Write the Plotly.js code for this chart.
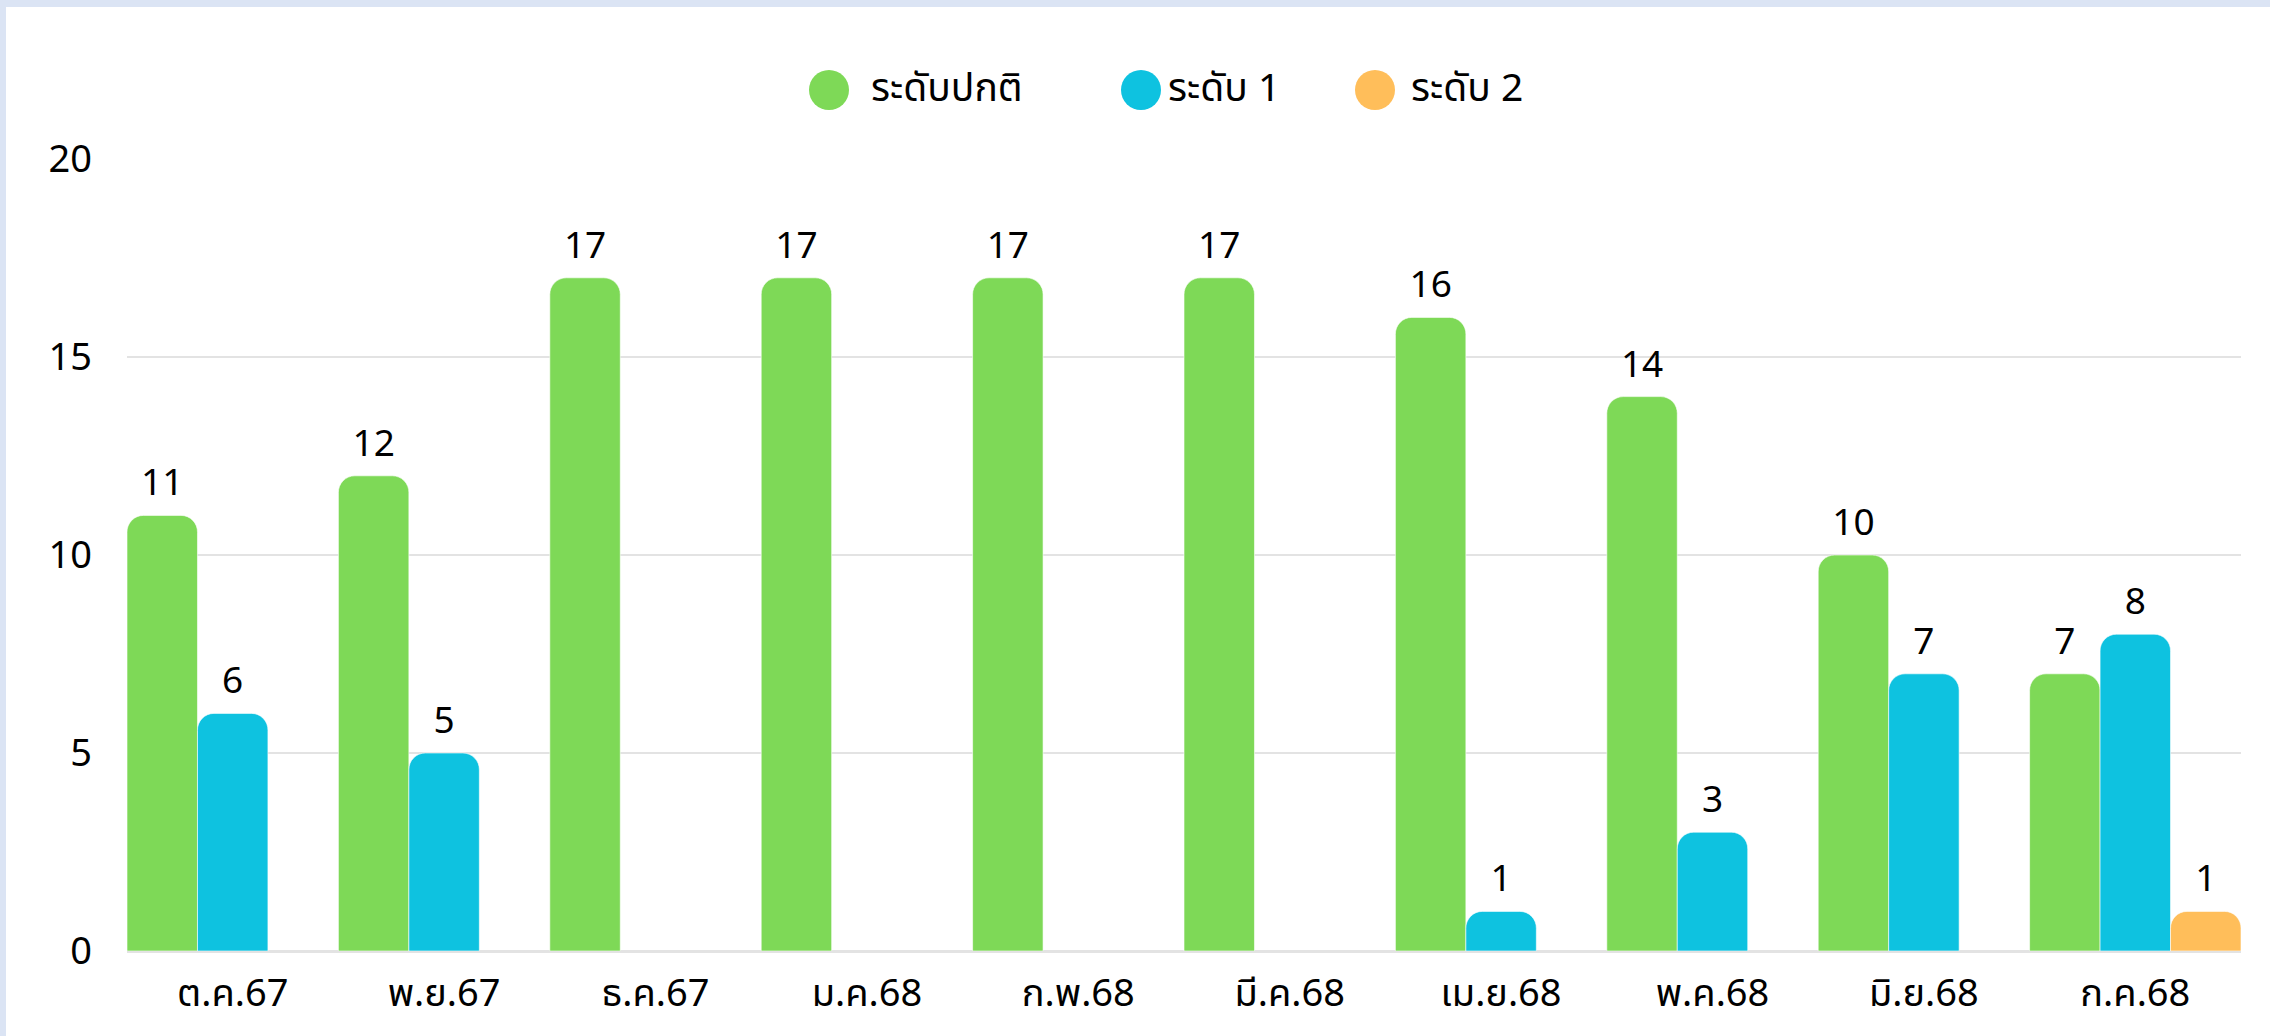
<!DOCTYPE html>
<html>
<head>
<meta charset="utf-8">
<script src="https://cdn.plot.ly/plotly-3.0.1.min.js"></script>
<style>
  html, body { margin: 0; padding: 0; background: #dbe4f4; }
  #wrap { position: absolute; left: 6px; top: 7px; width: 2264px; height: 1029px; background: #ffffff; }
  #chart { position: absolute; left: -6px; top: -7px; width: 2270px; height: 1036px; }
</style>
</head>
<body>
<div id="wrap"><div id="chart"></div></div>
<script>
const months = ["ต.ค.67", "พ.ย.67", "ธ.ค.67", "ม.ค.68", "ก.พ.68", "มี.ค.68", "เม.ย.68", "พ.ค.68", "มิ.ย.68", "ก.ค.68"];
const seriesNames = ["ระดับปกติ", "ระดับ 1", "ระดับ 2"];
const levelNormal = [11, 12, 17, 17, 17, 17, 16, 14, 10, 7];
const level1 = [6, 5, null, null, null, null, 1, 3, 7, 8];
const level2 = [null, null, null, null, null, null, null, null, null, 1];
const colors = ["#7ed957", "#0ec2e0", "#ffbe5a"];
const yTicks = [0, 5, 10, 15, 20];

const FONT = "Noto Sans Thai, Noto Sans, DejaVu Sans, sans-serif";
const seriesValues = [levelNormal, level1, level2];

const traces = seriesValues.map((vals, i) => ({
  type: "bar",
  name: seriesNames[i],
  x: months,
  y: vals,
  text: vals.map(v => v == null ? "" : String(v)),
  textposition: "outside",
  textfont: { family: FONT, size: 37, color: "#000000" },
  constraintext: "none",
  cliponaxis: false,
  marker: { color: colors[i], cornerradius: 17, line: { color: "rgba(255,255,255,0.6)", width: 1 } },
  showlegend: false,
  hoverinfo: "x+y"
}));

// Custom legend (circles + text) in paper coordinates
const L = 127, R = 2241, T = 159, B = 951;
const pw = R - L, ph = B - T;
const legendCenters = [829, 1141, 1375];
const legendTextX = [869, 1166, 1409];
const legendY = (B - 90) / ph;
const shapes = seriesNames.map((n, i) => ({
  type: "circle", xref: "paper", yref: "paper",
  xsizemode: "pixel", ysizemode: "pixel",
  xanchor: (legendCenters[i] - L) / pw, yanchor: legendY,
  x0: -20, x1: 20, y0: -20, y1: 20,
  fillcolor: colors[i], line: { width: 0 }
}));
const annotations = seriesNames.map((n, i) => ({
  text: n, xref: "paper", yref: "paper",
  x: (legendTextX[i] - L) / pw, y: legendY,
  xanchor: "left", yanchor: "middle", showarrow: false,
  font: { family: FONT, size: 39, color: "#000000" }
}));

const layout = {
  width: 2270, height: 1036,
  margin: { l: L, r: 2270 - R, t: T, b: 1036 - B },
  paper_bgcolor: "rgba(0,0,0,0)",
  plot_bgcolor: "rgba(0,0,0,0)",
  barmode: "group",
  bargap: 0,
  bargroupgap: 0,
  font: { family: FONT, size: 36, color: "#000000" },
  xaxis: {
    type: "category",
    showgrid: false,
    zeroline: false,
    showline: false,
    ticks: "",
    ticklabelstandoff: 16,
    tickfont: { family: FONT, size: 38, color: "#000000" }
  },
  yaxis: {
    range: [0, 20],
    tickvals: yTicks,
    ticktext: yTicks.map(String),
    showgrid: true,
    gridcolor: "#e3e3e3",
    gridwidth: 2,
    zeroline: true,
    zerolinecolor: "#e3e3e3",
    zerolinewidth: 3,
    showline: false,
    ticks: "",
    ticklabelstandoff: 34,
    tickfont: { family: FONT, size: 38, color: "#000000" }
  },
  shapes: shapes,
  annotations: annotations,
  showlegend: false
};

Plotly.newPlot("chart", traces, layout, { displayModeBar: false, staticPlot: true });
</script>
</body>
</html>
